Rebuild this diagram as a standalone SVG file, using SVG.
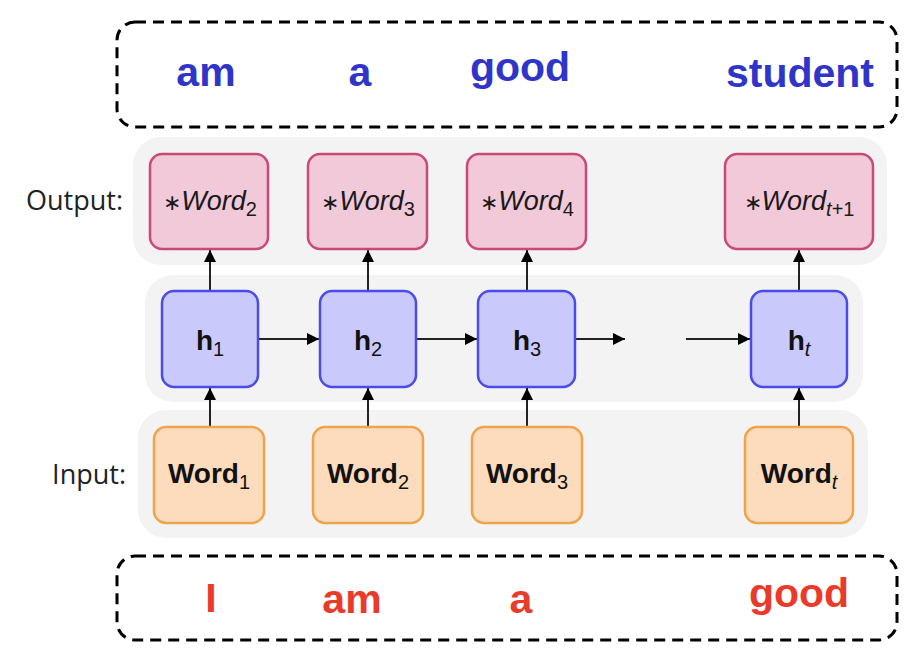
<svg xmlns="http://www.w3.org/2000/svg" width="914" height="658" viewBox="0 0 914 658">
<defs>
<style>
.panel{fill:#f3f3f3}
.out{fill:#f2c9d9;stroke:#c9497a;stroke-width:2.5}
.hid{fill:#c9c9fb;stroke:#4b4be8;stroke-width:2.5}
.inp{fill:#fddcbd;stroke:#f0a24d;stroke-width:2.5}
.dash{fill:none;stroke:#000;stroke-width:3;stroke-dasharray:11 7}
.lbl{font-family:"Open Sans","Liberation Sans",sans-serif;font-size:27px;fill:#222;text-anchor:end}
.it{font-family:"Liberation Sans",sans-serif;font-size:27px;font-style:italic;fill:#1a1a1a;text-anchor:middle}
.bd{font-family:"Liberation Sans",sans-serif;font-size:28px;font-weight:bold;fill:#111;text-anchor:middle}
.sub{font-style:normal;font-weight:normal;font-size:20px}
.subi{font-style:italic;font-weight:normal;font-size:20px}
.ast{font-style:normal;font-size:22px}
.top{font-family:"Liberation Sans",sans-serif;font-size:41px;font-weight:bold;fill:#2f35c8;text-anchor:middle}
.bot{font-family:"Liberation Sans",sans-serif;font-size:41px;font-weight:bold;fill:#e93a2a;text-anchor:middle}
.ln{stroke:#222;stroke-width:2;fill:none}
</style>
<marker id="ah" viewBox="0 0 10 10" refX="10" refY="5" markerWidth="6" markerHeight="6" orient="auto" markerUnits="strokeWidth">
<path d="M0,0 L10,5 L0,10 z" fill="#000"/>
</marker>
</defs>
<rect width="914" height="658" fill="#fff"/>

<g id="panels">
<rect class="panel" x="133" y="137" width="754" height="128" rx="28"/>
<rect class="panel" x="145" y="275" width="718" height="127" rx="28"/>
<rect class="panel" x="138" y="410" width="730" height="128" rx="28"/>
</g>

<g id="top-box">
<rect class="dash" x="117" y="22" width="780" height="105" rx="18"/>
<text class="top" x="206" y="86">am</text>
<text class="top" x="360" y="86">a</text>
<text class="top" x="520" y="81">good</text>
<text class="top" x="800" y="87">student</text>
</g>

<g id="bottom-box">
<rect class="dash" x="117" y="556" width="780" height="84" rx="18"/>
<text class="bot" x="211" y="612">I</text>
<text class="bot" x="352" y="613">am</text>
<text class="bot" x="521" y="613">a</text>
<text class="bot" x="799" y="607">good</text>
</g>

<g id="labels">
<text class="lbl" x="123" y="210">Output:</text>
<text class="lbl" x="126" y="484">Input:</text>
</g>

<g id="connectors">
<line class="ln" x1="210" y1="291" x2="210" y2="250" marker-end="url(#ah)"/>
<line class="ln" x1="368" y1="291" x2="368" y2="250" marker-end="url(#ah)"/>
<line class="ln" x1="527" y1="291" x2="527" y2="250" marker-end="url(#ah)"/>
<line class="ln" x1="799" y1="291" x2="799" y2="250" marker-end="url(#ah)"/>
<line class="ln" x1="210" y1="427" x2="210" y2="388" marker-end="url(#ah)"/>
<line class="ln" x1="368" y1="427" x2="368" y2="388" marker-end="url(#ah)"/>
<line class="ln" x1="527" y1="427" x2="527" y2="388" marker-end="url(#ah)"/>
<line class="ln" x1="799" y1="427" x2="799" y2="388" marker-end="url(#ah)"/>
<line class="ln" x1="258" y1="339" x2="319" y2="339" marker-end="url(#ah)"/>
<line class="ln" x1="416" y1="339" x2="477" y2="339" marker-end="url(#ah)"/>
<line class="ln" x1="575" y1="339" x2="625" y2="339" marker-end="url(#ah)"/>
<line class="ln" x1="686" y1="339" x2="750" y2="339" marker-end="url(#ah)"/>
</g>

<g id="out1"><rect class="out" x="150" y="154" width="118" height="95" rx="12"/><text class="it" x="210" y="210"><tspan class="ast">∗</tspan>Word<tspan class="sub" dy="6">2</tspan></text></g>
<g id="out2"><rect class="out" x="308" y="154" width="119" height="95" rx="12"/><text class="it" x="368" y="210"><tspan class="ast">∗</tspan>Word<tspan class="sub" dy="6">3</tspan></text></g>
<g id="out3"><rect class="out" x="467" y="154" width="119" height="95" rx="12"/><text class="it" x="527" y="210"><tspan class="ast">∗</tspan>Word<tspan class="sub" dy="6">4</tspan></text></g>
<g id="out4"><rect class="out" x="725" y="154" width="148" height="95" rx="12"/><text class="it" x="799" y="210"><tspan class="ast">∗</tspan>Word<tspan class="subi" dy="6">t</tspan><tspan class="sub">+1</tspan></text></g>

<g id="h1"><rect class="hid" x="162" y="291" width="96" height="96" rx="12"/><text class="bd" x="210" y="350">h<tspan class="sub" dy="6">1</tspan></text></g>
<g id="h2"><rect class="hid" x="320" y="291" width="96" height="96" rx="12"/><text class="bd" x="368" y="350">h<tspan class="sub" dy="6">2</tspan></text></g>
<g id="h3"><rect class="hid" x="478" y="291" width="97" height="96" rx="12"/><text class="bd" x="527" y="350">h<tspan class="sub" dy="6">3</tspan></text></g>
<g id="ht"><rect class="hid" x="751" y="291" width="96" height="96" rx="12"/><text class="bd" x="799" y="350">h<tspan class="subi" dy="6">t</tspan></text></g>

<g id="in1"><rect class="inp" x="154" y="427" width="110" height="96" rx="12"/><text class="bd" x="209" y="483">Word<tspan class="sub" dy="6">1</tspan></text></g>
<g id="in2"><rect class="inp" x="313" y="427" width="110" height="96" rx="12"/><text class="bd" x="368" y="483">Word<tspan class="sub" dy="6">2</tspan></text></g>
<g id="in3"><rect class="inp" x="472" y="427" width="110" height="96" rx="12"/><text class="bd" x="527" y="483">Word<tspan class="sub" dy="6">3</tspan></text></g>
<g id="int"><rect class="inp" x="745" y="427" width="108" height="96" rx="12"/><text class="bd" x="799" y="483">Word<tspan class="subi" dy="6">t</tspan></text></g>
</svg>
